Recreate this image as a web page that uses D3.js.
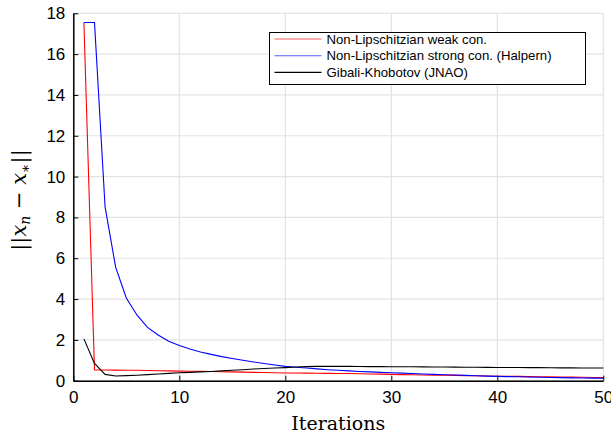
<!DOCTYPE html>
<html>
<head>
<meta charset="utf-8">
<script src="https://cdn.jsdelivr.net/npm/d3@7"></script>
<style>
  body { margin: 0; background: #fff; }
  svg { display: block; }
</style>
</head>
<body>
<svg id="chart" width="611" height="436"></svg>
<script>
// iterations 1..50
const iterations = d3.range(1, 51);

// Non-Lipschitzian weak con.
const weakCon = [17.55, 0.53, 0.525, 0.52, 0.515, 0.51, 0.50, 0.49, 0.48, 0.47,
  0.465, 0.46, 0.45, 0.44, 0.43, 0.42, 0.41, 0.40, 0.39, 0.38,
  0.375, 0.37, 0.365, 0.36, 0.355, 0.35, 0.34, 0.33, 0.32, 0.31,
  0.30, 0.29, 0.28, 0.275, 0.27, 0.26, 0.25, 0.24, 0.23, 0.22,
  0.215, 0.21, 0.20, 0.195, 0.19, 0.18, 0.175, 0.17, 0.16, 0.15];

// Non-Lipschitzian strong con. (Halpern)
const strongCon = [17.55, 17.55, 8.5, 5.55, 4.05, 3.22, 2.61, 2.24, 1.93, 1.72,
  1.55, 1.41, 1.29, 1.18, 1.09, 1.00, 0.92, 0.84, 0.77, 0.70,
  0.66, 0.62, 0.58, 0.54, 0.51, 0.48, 0.45, 0.43, 0.41, 0.39,
  0.37, 0.35, 0.33, 0.31, 0.29, 0.28, 0.26, 0.24, 0.225, 0.21,
  0.20, 0.19, 0.18, 0.17, 0.16, 0.15, 0.14, 0.135, 0.125, 0.12];

// Gibali-Khobotov (JNAO)
const gibali = [2.05, 0.85, 0.31, 0.23, 0.25, 0.27, 0.30, 0.33, 0.36, 0.39,
  0.41, 0.43, 0.45, 0.48, 0.51, 0.54, 0.57, 0.60, 0.62, 0.64,
  0.67, 0.69, 0.70, 0.70, 0.70, 0.70, 0.695, 0.69, 0.69, 0.685,
  0.68, 0.68, 0.675, 0.67, 0.67, 0.665, 0.66, 0.66, 0.655, 0.65,
  0.65, 0.645, 0.64, 0.64, 0.635, 0.63, 0.63, 0.625, 0.62, 0.62];

const xTicks = [0, 10, 20, 30, 40, 50];
const yTicks = [0, 2, 4, 6, 8, 10, 12, 14, 16, 18];

const seriesNames = ["Non-Lipschitzian weak con.", "Non-Lipschitzian strong con. (Halpern)", "Gibali-Khobotov (JNAO)"];
const seriesColors = ["#ff0000", "#0000ff", "#000000"];

const svg = d3.select("#chart");
const margin = {top: 13.3, right: 7.7, bottom: 55.3, left: 73.3};
const width = 611 - margin.left - margin.right,
      height = 436 - margin.top - margin.bottom;

const g = svg.append("g").attr("transform", `translate(${margin.left},${margin.top})`);

const x = d3.scaleLinear().domain([0, 50]).range([0, width]);
const y = d3.scaleLinear().domain([0, 18]).range([height, 0]);

// grid
g.append("g").selectAll("line").data(xTicks).enter().append("line")
  .attr("x1", d => x(d)).attr("x2", d => x(d))
  .attr("y1", 0).attr("y2", height)
  .attr("stroke", "#e3e3e3").attr("stroke-width", 1.2);
g.append("g").selectAll("line").data(yTicks).enter().append("line")
  .attr("x1", 0).attr("x2", width)
  .attr("y1", d => y(d)).attr("y2", d => y(d))
  .attr("stroke", "#e3e3e3").attr("stroke-width", 1.2);

// lines
const line = d3.line().x((d, i) => x(iterations[i])).y(d => y(d));
[weakCon, strongCon, gibali].forEach(function(s, i) {
  g.append("path").datum(s)
    .attr("d", line)
    .attr("fill", "none")
    .attr("stroke", seriesColors[i])
    .attr("stroke-width", 1.1);
});

// axes (ticks inward)
const xAxis = d3.axisBottom(x).tickValues(xTicks).tickSizeInner(-5).tickSizeOuter(0).tickPadding(10);
const yAxis = d3.axisLeft(y).tickValues(yTicks).tickSizeInner(-5).tickSizeOuter(0).tickPadding(8);

const gx = g.append("g").attr("transform", `translate(0,${height})`).call(xAxis);
const gy = g.append("g").call(yAxis);
[gx, gy].forEach(function(a) {
  a.select(".domain").attr("stroke", "#000").attr("stroke-width", 1.5);
  a.selectAll(".tick line").attr("stroke", "#000").attr("stroke-width", 1);
  a.selectAll(".tick text").attr("fill", "#000")
    .style("font-family", "'Liberation Sans', Arial, sans-serif").style("font-size", "17px");
});

// axis labels
svg.append("text")
  .attr("x", margin.left + width / 2).attr("y", 430)
  .attr("text-anchor", "middle")
  .style("font-family", "'DejaVu Serif', serif")
  .style("font-size", "19px")
  .text("Iterations");

const yl = svg.append("text")
  .attr("transform", "translate(26,200) rotate(-90)")
  .attr("text-anchor", "middle")
  .style("font-family", "'DejaVu Serif', serif")
  .style("font-size", "21px");
yl.append("tspan").text("||");
yl.append("tspan").style("font-style", "italic").text("x");
yl.append("tspan").attr("dy", 4).style("font-size", "14px").style("font-style", "italic").text("n");
yl.append("tspan").attr("dy", -4).text(" − ");
yl.append("tspan").style("font-style", "italic").text("x");
yl.append("tspan").attr("dy", 4).style("font-size", "14px").text("∗");
yl.append("tspan").attr("dy", -4).text("||");

// legend
const leg = svg.append("g").attr("transform", "translate(269.5,32.5)");
leg.append("rect")
  .attr("width", 316).attr("height", 52)
  .attr("fill", "#fff").attr("stroke", "#000").attr("stroke-width", 1);
const items = leg.selectAll("g.item").data(seriesNames).enter().append("g")
  .attr("class", "item")
  .attr("transform", (d, i) => `translate(0,${6.5 + i * 16.7})`);
items.append("line")
  .attr("x1", 5).attr("x2", 52)
  .attr("stroke", (d, i) => seriesColors[i]).attr("stroke-width", 1.1)
  .attr("stroke-opacity", (d, i) => i < 2 ? 0.65 : 1);
items.append("text")
  .attr("x", 57).attr("y", 4.5)
  .style("font-family", "'Liberation Sans', Arial, sans-serif")
  .style("font-size", "13.2px")
  .text(d => d);
</script>
</body>
</html>
